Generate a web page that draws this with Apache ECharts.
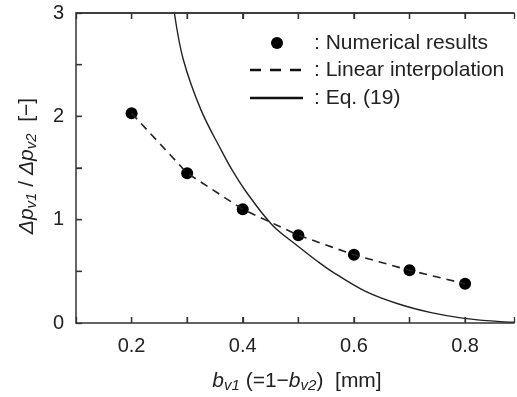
<!DOCTYPE html>
<html><head><meta charset="utf-8">
<script src="https://cdn.jsdelivr.net/npm/echarts@6/dist/echarts.min.js"></script>
<style>html,body{margin:0;padding:0;background:#fff}#c{width:517px;height:397px}</style>
</head><body><div id="c"></div>
<script>
// Numerical results
const bv1 = [0.2, 0.3, 0.4, 0.5, 0.6, 0.7, 0.8];
const ratio = [2.03, 1.45, 1.10, 0.85, 0.66, 0.51, 0.38];
// Eq. (19) curve
const eqX = [0.277, 0.293, 0.325, 0.361, 0.381, 0.408, 0.453, 0.500, 0.533, 0.560, 0.620, 0.679, 0.739, 0.798, 0.858, 0.888];
const eqY = [3.00, 2.55, 2.06, 1.675, 1.48, 1.256, 0.949, 0.74, 0.603, 0.50, 0.308, 0.186, 0.100, 0.045, 0.016, 0.008];
const xTickLabels = ['0.2', '0.4', '0.6', '0.8'];
const yTickLabels = ['0', '1', '2', '3'];
const xTicks = [0.2, 0.3, 0.4, 0.5, 0.6, 0.7, 0.8];
const yTicks = [0.5, 1, 1.5, 2, 2.5];
const xRange = [0.1, 0.888];
const yRange = [0, 3];

const pts = bv1.map((x, i) => [x, ratio[i]]);
const eqPts = eqX.map((x, i) => [x, eqY[i]]);
const FONT = 'Liberation Sans';
const TXT = '#222';
const AX = '#333';

const chart = echarts.init(document.getElementById('c'));
const xLab = v => { const s = (Math.round(v * 10) / 10).toFixed(1); return (xTickLabels.includes(s) && Math.abs(v - parseFloat(s)) < 1e-6) ? s : ''; };
const yLab = v => { const s = String(Math.round(v * 2) / 2); return yTickLabels.includes(s) ? s : ''; };
const mkLine = () => ({show: true, onZero: false, lineStyle: {color: AX, width: 1.5}});
const mkTick = () => ({show: true, inside: true, length: 6, lineStyle: {color: AX, width: 1.3}});
const rich = {
  n: {fontSize: 21, fontFamily: FONT, fill: TXT, lineHeight: 24},
  i: {fontSize: 21, fontStyle: 'italic', fontFamily: FONT, fill: TXT, lineHeight: 24},
  s: {fontSize: 15, fontStyle: 'italic', fontFamily: FONT, fill: TXT, lineHeight: 10, verticalAlign: 'bottom'}
};
// tick marks drawn through the axes' scales (fallback in case axisTick is not drawn)
const tickSeries = (data, size, offset) => ({
  type: 'scatter', data, symbol: 'rect', symbolSize: size, symbolOffset: offset,
  clip: false, silent: true, z: 5, itemStyle: {color: AX, opacity: 1}
});

chart.setOption({
  animation: false,
  grid: {left: 76, top: 13, right: 0, bottom: 74},
  xAxis: [{
    type: 'value', min: xRange[0], max: xRange[1], interval: 0.1, position: 'bottom',
    axisLine: mkLine(), axisTick: mkTick(), splitLine: {show: false},
    axisLabel: {formatter: xLab, fontSize: 20, color: TXT, fontFamily: FONT, margin: 13}
  }, {
    type: 'value', min: xRange[0], max: xRange[1], interval: 0.1, position: 'top',
    axisLine: mkLine(), axisTick: mkTick(), axisLabel: {show: false}, splitLine: {show: false}
  }],
  yAxis: [{
    type: 'value', min: yRange[0], max: yRange[1], interval: 0.5,
    axisLine: mkLine(), axisTick: mkTick(), splitLine: {show: false},
    axisLabel: {formatter: yLab, fontSize: 20, color: TXT, fontFamily: FONT, margin: 12}
  }],
  series: [
    {type: 'line', data: eqPts, smooth: 0.35, showSymbol: false,
     lineStyle: {color: '#222', width: 1.4},
     markLine: {silent: true, symbol: 'none', label: {show: false},
                lineStyle: {color: AX, width: 1.5, type: 'solid'},
                data: [{yAxis: yRange[1]}]}},
    {type: 'line', data: pts, showSymbol: false,
     lineStyle: {color: '#222', width: 1.6, type: [8, 6]}},
    {type: 'scatter', data: pts, symbol: 'circle', symbolSize: 12,
     itemStyle: {color: '#000', opacity: 1}},
    tickSeries(xTicks.map(x => [x, yRange[0]]), [1.3, 6], [0, -3]),
    tickSeries(xTicks.map(x => [x, yRange[1]]), [1.3, 6], [0, 3]),
    tickSeries(yTicks.map(y => [xRange[0], y]), [6, 1.3], [3, 0])
  ],
  graphic: [
    {type: 'text', x: 297, y: 381, style: {text: '{i|b}{s|v1}{n| (=1−}{i|b}{s|v2}{n|)  [mm]}', rich, align: 'center', verticalAlign: 'middle'}},
    {type: 'text', x: 27, y: 166, rotation: Math.PI / 2, style: {text: '{i|Δp}{s|v1}{n| / }{i|Δp}{s|v2}{n|  [−]}', rich, align: 'center', verticalAlign: 'middle'}},
    {type: 'circle', shape: {cx: 277, cy: 43, r: 6}, style: {fill: '#000'}},
    {type: 'line', shape: {x1: 250, y1: 70, x2: 303, y2: 70}, style: {stroke: '#111', lineWidth: 2.5, lineDash: [11, 9]}},
    {type: 'line', shape: {x1: 250, y1: 98, x2: 303, y2: 98}, style: {stroke: '#111', lineWidth: 2.5}},
    {type: 'text', x: 314, y: 43, style: {text: ': Numerical results', font: '21px "Liberation Sans"', fill: TXT, verticalAlign: 'middle'}},
    {type: 'text', x: 314, y: 70, style: {text: ': Linear interpolation', font: '21px "Liberation Sans"', fill: TXT, verticalAlign: 'middle'}},
    {type: 'text', x: 314, y: 98, style: {text: ': Eq. (19)', font: '21px "Liberation Sans"', fill: TXT, verticalAlign: 'middle'}}
  ]
});
</script></body></html>
